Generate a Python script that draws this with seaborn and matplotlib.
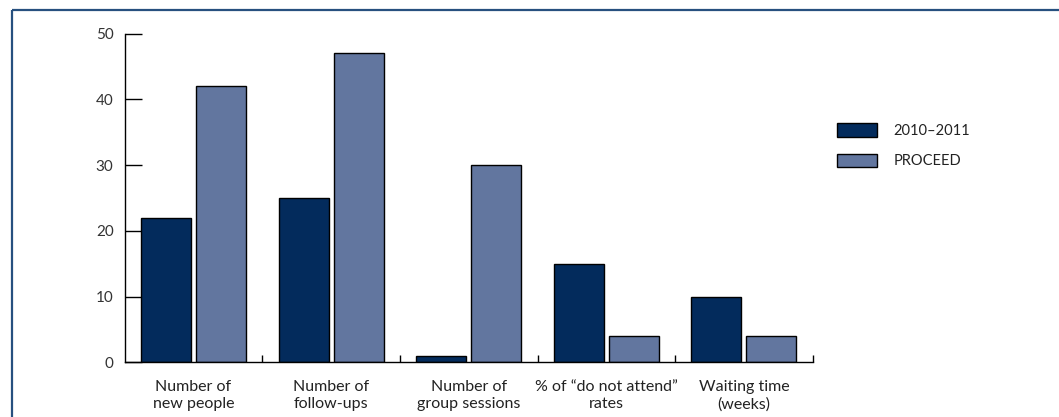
import matplotlib
matplotlib.use("Agg")
import matplotlib.pyplot as plt
import seaborn as sns
import pandas as pd
from matplotlib.lines import Line2D

categories = ["Number of\nnew people", "Number of\nfollow-ups", "Number of\ngroup sessions",
              "% of \u201cdo not attend\u201d\nrates", "Waiting time\n(weeks)"]
series_names = ["2010\u20132011", "PROCEED"]
values_2010 = [22, 25, 1, 15, 10]
values_proceed = [42, 47, 30, 4, 4]
y_ticks = [0, 10, 20, 30, 40, 50]

colors = ["#032b5c", "#62769f"]

rows = []
for c, v in zip(categories, values_2010):
    rows.append({"category": c, "series": series_names[0], "value": v})
for c, v in zip(categories, values_proceed):
    rows.append({"category": c, "series": series_names[1], "value": v})
df = pd.DataFrame(rows)

sns.set_theme(style="white")
plt.rcParams["font.family"] = ["Lato", "DejaVu Sans"]

fig = plt.figure(figsize=(10.59, 4.17), dpi=100)
ax = fig.add_axes([124.7 / 1059, 1 - 362.3 / 417, (812.7 - 124.7) / 1059, (362.3 - 33.7) / 417])

sns.barplot(data=df, x="category", y="value", hue="series", order=categories,
            hue_order=series_names, palette=colors, width=0.8, gap=0.09,
            edgecolor="black", linewidth=1.0, saturation=1, ax=ax, legend=True)

ax.set_xlim(-0.5, len(categories) - 0.5)
ax.set_ylim(0, 50)
ax.set_yticks(y_ticks)
ax.set_xlabel("")
ax.set_ylabel("")

for s in ["top", "right"]:
    ax.spines[s].set_visible(False)
for s in ["left", "bottom"]:
    ax.spines[s].set_color("black")
    ax.spines[s].set_linewidth(1.0)

ax.tick_params(axis="y", direction="in", length=12.3, width=1.0, color="black",
               pad=8, labelsize=11, labelcolor="#333333", left=True)
ax.tick_params(axis="x", which="major", length=0, pad=12.5, labelsize=11.5, labelcolor="#222222")
for t in ax.get_xticklabels():
    t.set_linespacing(1.32)
ax.set_xticks([i + 0.5 for i in range(len(categories))], minor=True)
ax.tick_params(axis="x", which="minor", direction="in", length=5, width=1.0, color="black", bottom=True)

handles, labels = ax.get_legend_handles_labels()
leg = ax.legend(handles, labels, loc="upper left", bbox_to_anchor=(836.7 / 1059, 1 - 123.5 / 417),
                bbox_transform=fig.transFigure, frameon=False, fontsize=10.5,
                handlelength=2.75, handleheight=1.05, handletextpad=1.15, labelspacing=1.05,
                borderpad=0, borderaxespad=0)
for t in leg.get_texts():
    t.set_color("#222222")

# figure border (top and left)
bcol = "#27507f"
fig.add_artist(Line2D([12 / 1059, 1.0], [1 - 10 / 417, 1 - 10 / 417], transform=fig.transFigure,
                      color=bcol, linewidth=1.6, solid_capstyle="butt"))
fig.add_artist(Line2D([12 / 1059, 12 / 1059], [1 - 10 / 417, 0.0], transform=fig.transFigure,
                      color=bcol, linewidth=1.6, solid_capstyle="butt"))

fig.savefig("out.png", dpi=100)
